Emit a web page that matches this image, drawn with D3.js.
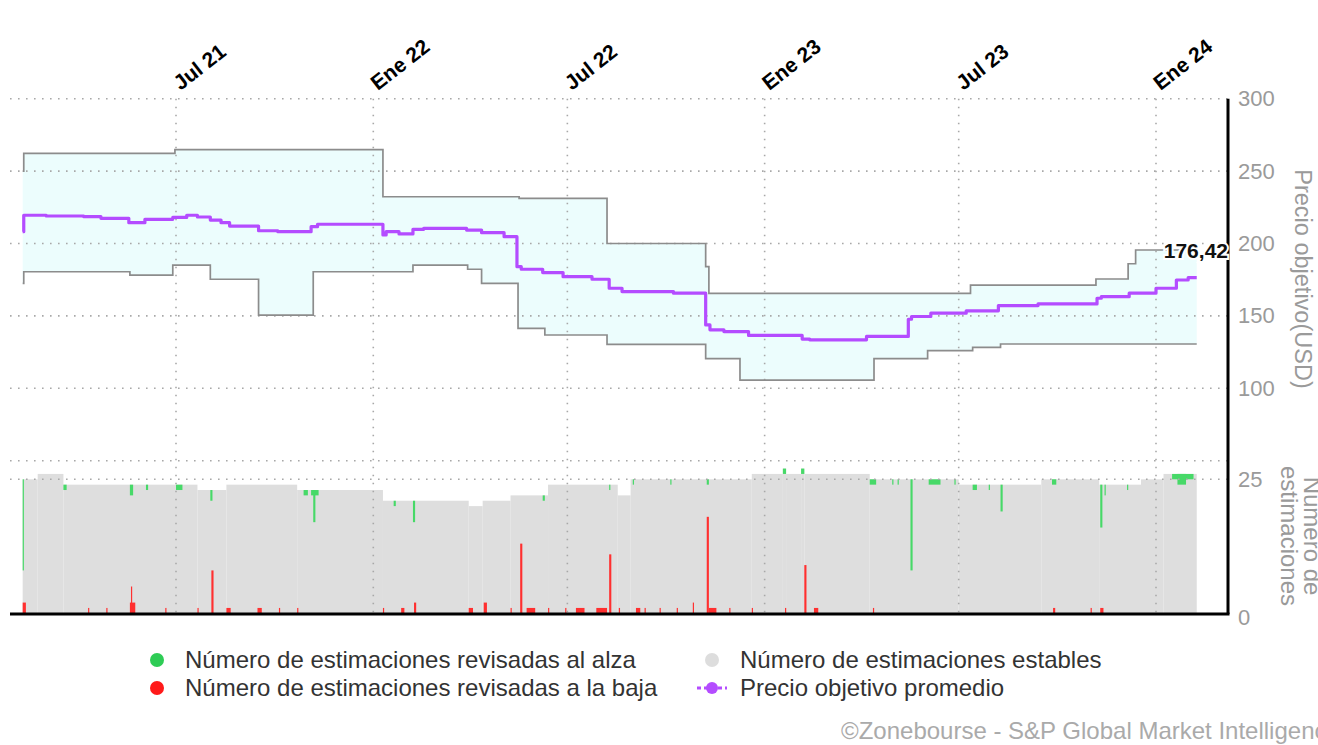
<!DOCTYPE html>
<html><head><meta charset="utf-8">
<script src="https://cdn.jsdelivr.net/npm/d3@7"></script>
<style>
body{margin:0;background:#fff;}
svg{display:block;font-family:"Liberation Sans",Arial,sans-serif;}
</style>
</head><body>
<svg id="c" width="1318" height="745"></svg>
<script>
// ---------- DATA ----------
const tickDates  = ["2021-07-01","2022-01-01","2022-07-01","2023-01-01","2023-07-01","2024-01-01"];
const tickLabels = ["Jul 21","Ene 22","Jul 22","Ene 23","Jul 23","Ene 24"];
const priceTicks = [100,150,200,250,300];
const priceGrid  = [50,100,150,200,250,300];
const countTicks = [0,25];
const countGrid  = [25];
const endDate = "2024-02-08";

// highest target (step change points)
const highTarget = [
 ["2021-02-08",250],["2021-02-09",262.3],["2021-06-30",264.8],["2022-01-10",232.3],
 ["2022-05-17",231.2],["2022-08-07",200],["2022-11-07",184],["2022-11-10",165.6],
 ["2023-07-12",171.3],["2023-11-06",175.5],["2023-12-06",186],["2023-12-13",195.5]
];
// lowest target
const lowTarget = [
 ["2021-02-08",172.5],["2021-02-09",180.5],["2021-05-19",178.2],["2021-06-28",185],
 ["2021-08-02",175.3],["2021-09-16",150.6],["2021-11-06",180.5],["2022-02-07",185],
 ["2022-03-30",182.2],["2022-04-12",172.5],["2022-05-16",141.4],["2022-06-10",136.8],
 ["2022-08-07",130.4],["2022-11-07",120.5],["2022-12-09",105.7],["2023-04-13",120.5],
 ["2023-06-02",126],["2023-07-14",128.3],["2023-08-09",130.6]
];
// average target
const meanTarget = [
 ["2021-02-08",208.2],["2021-02-09",219.5],["2021-03-02",219],["2021-04-06",218.5],
 ["2021-04-22",217.4],["2021-05-18",214.4],["2021-06-02",216.7],["2021-06-28",218],
 ["2021-07-11",219.5],["2021-07-21",218.3],["2021-08-02",216.2],["2021-08-12",214.4],
 ["2021-08-20",212],["2021-09-16",208.8],["2021-10-04",208.2],["2021-11-04",211.6],
 ["2021-11-10",213.3],["2022-01-10",205.9],["2022-01-13",208.2],["2022-01-25",206.6],
 ["2022-02-07",209.8],["2022-02-17",210.5],["2022-03-29",209.3],["2022-04-12",207.5],
 ["2022-05-03",204.7],["2022-05-15",184],["2022-05-19",182.2],["2022-06-08",179.9],
 ["2022-06-27",177.1],["2022-07-24",175.3],["2022-08-09",169.1],["2022-08-21",166.8],
 ["2022-10-08",165.7],["2022-11-07",143.8],["2022-11-11",140.4],["2022-11-24",139.2],
 ["2022-12-17",136.5],["2023-02-05",134],["2023-02-12",133.5],["2023-04-06",135.8],
 ["2023-05-15",147.7],["2023-05-18",149.6],["2023-06-05",151.9],["2023-07-08",153.5],
 ["2023-08-07",157.1],["2023-09-13",158.3],["2023-11-07",162.2],["2023-11-11",163.3],
 ["2023-12-07",165.7],["2024-01-01",169.1],["2024-01-20",174.8],["2024-01-31",176.42]
];
const lastMeanLabel = "176,42";

// total number of estimates (step change points)
const totalEstimates = [
 ["2021-02-08",25],["2021-02-22",26],["2021-03-18",24],["2021-07-21",23],["2021-08-17",24],
 ["2021-10-22",23],["2022-01-10",21],["2022-03-31",20],["2022-04-13",21],["2022-05-09",22],
 ["2022-06-13",24],["2022-08-17",22],["2022-08-29",25],["2022-12-20",26],["2023-01-18",27],
 ["2023-01-21",26],["2023-02-04",27],["2023-02-07",26],["2023-04-09",25],["2023-07-01",24],
 ["2023-09-16",25],["2023-11-09",24],["2023-12-18",25],["2024-01-08",26]
];
// revisions up: [date, count, days]
const upRevisions = [
 ["2021-02-08",17,1],["2021-03-18",1,3],["2021-05-19",2,3],["2021-06-03",1,2],["2021-07-01",1,6],
 ["2021-08-02",2,2],["2021-10-28",1,4],["2021-11-04",1,7],["2021-11-06",6,2],["2022-01-20",1,2],
 ["2022-02-07",4,2],["2022-06-08",1,2],["2022-08-09",1,1],["2022-08-31",1,1],["2022-10-05",1,1],
 ["2022-11-08",1,2],["2023-01-18",1,3],["2023-02-04",1,3],["2023-04-09",1,6],["2023-04-30",1,1],
 ["2023-05-05",1,1],["2023-05-17",17,2],["2023-06-03",1,11],["2023-06-27",1,1],["2023-07-14",1,4],
 ["2023-07-29",1,1],["2023-08-09",5,2],["2023-09-26",1,4],["2023-11-10",8,2],["2023-11-14",2,1],
 ["2023-12-05",1,1],["2024-01-16",1,20],["2024-01-21",2,8]
];
// revisions down: [date, count, days]
const downRevisions = [
 ["2021-02-08",2,3],["2021-04-10",1,1],["2021-04-27",1,1],["2021-05-19",2,5],["2021-05-20",5,1],
 ["2021-06-21",1,1],["2021-07-21",1,1],["2021-08-03",8,2],["2021-08-17",1,4],["2021-09-15",1,4],
 ["2021-10-05",1,1],["2021-10-22",1,1],["2022-01-10",1,1],["2022-01-27",1,3],["2022-02-08",2,2],
 ["2022-03-31",1,4],["2022-04-14",2,3],["2022-05-09",1,1],["2022-05-18",13,2],["2022-05-24",1,8],
 ["2022-06-13",1,1],["2022-06-29",1,1],["2022-07-09",1,8],["2022-07-28",1,10],["2022-08-09",11,2],
 ["2022-08-18",1,1],["2022-09-03",1,4],["2022-09-11",1,1],["2022-09-25",1,1],["2022-10-11",1,1],
 ["2022-10-26",2,1],["2022-11-08",18,2],["2022-11-10",1,7],["2022-11-29",1,1],["2022-12-20",1,1],
 ["2023-01-20",1,1],["2023-02-07",9,2],["2023-02-16",1,4],["2023-04-12",1,1],["2023-09-27",1,2],
 ["2023-11-01",1,1],["2023-11-10",1,3]
];

const legendItems = [
 {label:"Número de estimaciones revisadas al alza", color:"#2ecc55", type:"dot", col:0, row:0},
 {label:"Número de estimaciones revisadas a la baja", color:"#ff1a1a", type:"dot", col:0, row:1},
 {label:"Número de estimaciones estables", color:"#dddddd", type:"dot", col:1, row:0},
 {label:"Precio objetivo promedio", color:"#b44cff", type:"line", col:1, row:1}
];
const yTitlePrice = "Precio objetivo(USD)";
const yTitleCount = ["Número de","estimaciones"];
const credit = "©Zonebourse - S&P Global Market Intelligence";

// ---------- STYLE / LAYOUT ----------
const C = {band:"#ecfdfd", bandLine:"#8c8c8c", mean:"#b44cff", stable:"#dedede",
           up:"#47d968", down:"#ff3030", grid:"#a8a8a8", tick:"#9a9a9a"};
const FONT = '"Liberation Sans",Arial,sans-serif';
const parse = d3.utcParse("%Y-%m-%d");
const svg = d3.select("#c");

const x = d3.scaleUtc().domain([parse("2021-07-01"), parse("2024-01-01")]).range([176, 1156]);
const yP = d3.scaleLinear().domain([100, 200]).range([388.3, 243.5]);
const yC = d3.scaleLinear().domain([0, 25]).range([613.3, 479.3]);
const plotL = 10, plotR = 1228, plotT = yP(300), plotB = 614;
const END = parse(endDate);

const toPts = arr => arr.map(([d,v]) => ({d: parse(d), v}));
const hiP = toPts(highTarget), loP = toPts(lowTarget), meP = toPts(meanTarget), totP = toPts(totalEstimates);
const stepAt = (pts, d) => { let v = pts[0].v; for (const p of pts) { if (p.d <= d) v = p.v; else break; } return v; };
const withEnd = pts => pts.concat([{d: END, v: pts[pts.length-1].v}]);

// band area
const bandDates = Array.from(new Set(hiP.concat(loP).map(p => +p.d))).sort((a,b)=>a-b).map(t => new Date(t));
bandDates.push(END);
const bandData = bandDates.map(d => ({d, hi: stepAt(hiP, d), lo: stepAt(loP, d)}));
svg.append("path").datum(bandData)
  .attr("d", d3.area().curve(d3.curveStepAfter).x(p => x(p.d)).y0(p => yP(p.lo)).y1(p => yP(p.hi)))
  .attr("fill", C.band);

// bars: stable (full total), up at top, down at bottom
const dayMs = 86400000;
const totSeg = totP.map((p,i) => ({d0: p.d, d1: i < totP.length-1 ? totP[i+1].d : END, v: p.v}));
svg.append("g").selectAll("rect").data(totSeg).join("rect")
  .attr("x", s => x(s.d0)).attr("width", s => x(s.d1) - x(s.d0))
  .attr("y", s => yC(s.v)).attr("height", s => yC(0) - yC(s.v)).attr("fill", C.stable);
svg.append("g").selectAll("rect").data(upRevisions).join("rect")
  .attr("x", e => x(parse(e[0]))).attr("width", e => Math.max(1.2, x(new Date(+parse(e[0]) + e[2]*dayMs)) - x(parse(e[0]))))
  .attr("y", e => yC(stepAt(totP, parse(e[0]))))
  .attr("height", e => yC(0) - yC(e[1])).attr("fill", C.up);
svg.append("g").selectAll("rect").data(downRevisions).join("rect")
  .attr("x", e => x(parse(e[0]))).attr("width", e => Math.max(1.2, x(new Date(+parse(e[0]) + e[2]*dayMs)) - x(parse(e[0]))))
  .attr("y", e => yC(e[1])).attr("height", e => yC(0) - yC(e[1])).attr("fill", C.down);

// gridlines
const grid = svg.append("g").attr("stroke", C.grid).attr("stroke-width", 1.6).attr("stroke-dasharray", "1.6,6.4");
grid.selectAll("line.h").data(priceGrid).join("line").attr("class","h")
  .attr("x1", plotL).attr("x2", plotR).attr("y1", d => yP(d)).attr("y2", d => yP(d));
grid.selectAll("line.c").data(countGrid).join("line").attr("class","c")
  .attr("x1", plotL).attr("x2", plotR).attr("y1", d => yC(d)).attr("y2", d => yC(d));
grid.selectAll("line.v").data(tickDates).join("line").attr("class","v")
  .attr("x1", d => x(parse(d))).attr("x2", d => x(parse(d))).attr("y1", plotT).attr("y2", plotB);

// band outlines
const stepLine = d3.line().curve(d3.curveStepAfter).x(p => x(p.d)).y(p => yP(p.v));
[hiP, loP].forEach(pts => svg.append("path").datum(withEnd(pts)).attr("d", stepLine)
  .attr("fill","none").attr("stroke", C.bandLine).attr("stroke-width", 1.7));
// mean line
svg.append("path").datum(withEnd(meP)).attr("d", stepLine)
  .attr("fill","none").attr("stroke", C.mean).attr("stroke-width", 3.2).attr("stroke-linejoin","round");

// axes lines
svg.append("line").attr("x1", plotL).attr("x2", plotR + 1.5).attr("y1", plotB).attr("y2", plotB)
  .attr("stroke","#000").attr("stroke-width",3);
svg.append("line").attr("x1", plotR).attr("x2", plotR).attr("y1", plotT).attr("y2", plotB)
  .attr("stroke","#000").attr("stroke-width",3);

// top axis (dates)
const gTop = svg.append("g").attr("transform","translate(0,91)")
  .call(d3.axisTop(x).tickValues(tickDates.map(parse)).tickFormat((d,i) => tickLabels[i]).tickSize(0));
gTop.select(".domain").remove();
gTop.selectAll("text").attr("x", 0).attr("y", 0).attr("dy", 0)
  .attr("transform","translate(4,0) rotate(-38)").style("text-anchor","start")
  .attr("font-size", 21).attr("font-weight","bold").attr("fill","#000").attr("font-family", FONT);

// right axes
const gP = svg.append("g").attr("transform",`translate(${plotR},0)`)
  .call(d3.axisRight(yP).tickValues(priceTicks).tickSize(0).tickPadding(10));
const gC = svg.append("g").attr("transform",`translate(${plotR},0)`)
  .call(d3.axisRight(yC).tickValues(countTicks).tickSize(0).tickPadding(10));
[gP, gC].forEach(g => { g.select(".domain").remove();
  g.selectAll("text").attr("font-size", 22).attr("fill", C.tick).attr("font-family", FONT); });
gC.selectAll("text").filter(d => d === 0).attr("dy", "0.5em");

// axis titles
svg.append("text").attr("transform","translate(1295,279) rotate(90)")
  .attr("text-anchor","middle").attr("font-size", 23.5).attr("fill", C.tick).text(yTitlePrice);
const tC = svg.append("text").attr("transform","translate(1304,536) rotate(90)")
  .attr("text-anchor","middle").attr("font-size", 24).attr("fill", C.tick);
yTitleCount.forEach((t,i) => tC.append("tspan").attr("x",0).attr("dy", i ? 23 : 0).text(t));

// last value label
svg.append("text").attr("x", 1228).attr("y", 258).attr("text-anchor","end")
  .attr("font-size", 21).attr("font-weight","bold").attr("fill","#111")
  .attr("stroke","#fff").attr("stroke-width",4).attr("paint-order","stroke").text(lastMeanLabel);

// legend
const colX = [157, 712], rowY = [660, 688];
const lg = svg.append("g");
legendItems.forEach(it => {
  const cx = colX[it.col], cy = rowY[it.row];
  if (it.type === "dot") {
    lg.append("circle").attr("cx", cx).attr("cy", cy).attr("r", 7).attr("fill", it.color);
  } else {
    lg.append("line").attr("x1", cx-15).attr("x2", cx+15).attr("y1", cy).attr("y2", cy)
      .attr("stroke", it.color).attr("stroke-width", 3).attr("stroke-dasharray","4,3");
    lg.append("circle").attr("cx", cx).attr("cy", cy).attr("r", 6).attr("fill", it.color);
  }
  lg.append("text").attr("x", cx + 28).attr("y", cy + 8).attr("font-size", 24).attr("fill","#333").text(it.label);
});

// credit
svg.append("text").attr("x", 841).attr("y", 739).attr("font-size", 24).attr("fill","#aaa").text(credit);
</script>
</body></html>
